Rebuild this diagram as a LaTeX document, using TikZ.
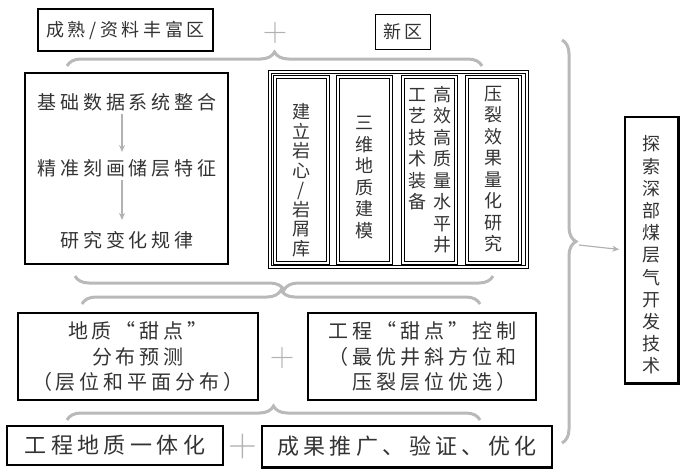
\documentclass[tikz,border=0pt]{standalone}
\usepackage{fontspec}
\newfontfamily\cjk[LetterSpace=20]{Noto Sans CJK SC}
\newfontfamily\cjkv{Noto Sans CJK SC}
\usetikzlibrary{arrows.meta,decorations.pathreplacing}

\tikzset{
  box/.style={draw=black, line width=1.6pt, inner sep=0pt},
  dbox/.style={draw=black, line width=1.1pt, double, double distance=1.3pt, inner sep=0pt},
  txt/.style={text=black!80, inner sep=0pt},
  vtxt/.style={txt, align=center, font=\cjkv\fontsize{18}{21.5}\selectfont},
  bracegray/.style={draw=gray!55, line width=3pt, decorate, decoration={brace, amplitude=14pt}},
  plus/.style={text=gray!60, inner sep=0pt, font=\fontsize{34}{34}\selectfont},
  flow/.style={draw=gray!60, line width=1.2pt, -{Stealth[length=7pt,width=6pt]}},
}

\begin{document}
\begin{tikzpicture}[x=1pt,y=-1pt]
\useasboundingbox (0,0) rectangle (693,475);
% top row: mature and new zones
\node[box, txt, minimum width=175pt, minimum height=42pt, font=\cjk\fontsize{18}{20}\selectfont] (mature) at (125.5,30) {成熟/资料丰富区};
\node[plus] (plusA) at (275,33) {+};
\node[box, txt, minimum width=55pt, minimum height=35pt, font=\cjk\fontsize{18}{20}\selectfont] (newzone) at (403,32) {新区};
\draw[bracegray] (67,66) -- (482,66);

% left block
\node[box, minimum width=203pt, minimum height=191pt] (base) at (126.5,168.5) {};
\node[txt, font=\cjk\fontsize{19}{20}\selectfont] (step1) at (127,102) {基础数据系统整合};
\node[txt, font=\cjk\fontsize{19}{20}\selectfont] (step2) at (127,168) {精准刻画储层特征};
\node[txt, font=\cjk\fontsize{19}{20}\selectfont] (step3) at (127,240) {研究变化规律};
\draw[flow, shorten <=3pt, shorten >=7pt] ([xshift=-5pt]step1.south) -- ([xshift=-5pt]step2.north);
\draw[flow, shorten <=3pt, shorten >=11pt] ([xshift=-5pt]step2.south) -- ([xshift=-5pt]step3.north);

% right block with four columns
\node[dbox, minimum width=257pt, minimum height=195pt] (newgrp) at (398.5,169.5) {};
\node[dbox, minimum width=53pt, minimum height=186pt] (colA) at (301.5,170) {};
\node[dbox, minimum width=53pt, minimum height=186pt] (colB) at (364.5,170) {};
\node[dbox, minimum width=53pt, minimum height=186pt] (colC) at (429.5,170) {};
\node[dbox, minimum width=53pt, minimum height=186pt] (colD) at (493.5,170) {};
\node[vtxt, font=\cjkv\fontsize{18}{19.5}\selectfont] (core) at (301.5,180) {建\\立\\岩\\心\\/\\岩\\屑\\库};
\node[vtxt] (model) at (364.5,177.5) {三\\维\\地\\质\\建\\模};
\node[vtxt, anchor=north] (craft) at (417,88) {工\\艺\\技\\术\\装\\备};
\node[vtxt, anchor=north] (well) at (442,86) {高\\效\\高\\质\\量\\水\\平\\井};
\node[vtxt, anchor=north] (frac) at (493.5,86) {压\\裂\\效\\果\\量\\化\\研\\究};

% crossing braces
\draw[bracegray] (493,276) -- (75,276);
\draw[bracegray] (82,304) -- (480,304);

% sweet spots
\node[box, txt, minimum width=240pt, minimum height=87pt, align=center, font=\cjk\fontsize{20}{25.5}\selectfont] (geo) at (138,356.5) {地质“甜点”\\分布预测\\（层位和平面分布）};
\node[plus] (plusB) at (282,358) {+};
\node[box, txt, minimum width=228pt, minimum height=87pt, align=right, font=\cjk\fontsize{20}{25.5}\selectfont] (eng) at (422,356.5) {工程“甜点”控制\\（最优井斜方位和\\压裂层位优选）};
\draw[bracegray] (67,420) -- (480,420);

% bottom row
\node[box, txt, minimum width=216pt, minimum height=39pt, font=\cjk\fontsize{22}{24}\selectfont] (unify) at (115,445.5) {工程地质一体化};
\node[plus, font=\fontsize{40}{40}\selectfont] (plusC) at (243,447) {+};
\node[box, txt, minimum width=290pt, minimum height=41pt, font=\cjk\fontsize{22}{24}\selectfont] (spread) at (407,446.5) {成果推广、验证、优化};
\draw[line width=3pt] (spread.south west) -- (spread.south east);

% goal
\draw[bracegray] (562,40) -- (562,443);
\coordinate (tip) at (579,245);
\node[box, minimum width=53pt, minimum height=266pt] (goal) at (651.5,250) {};
\draw[line width=3pt] (goal.north east) -- (goal.south east) -- (goal.south west);
\node[vtxt, font=\cjkv\fontsize{18}{22.2}\selectfont] (goalt) at (651,255) {探\\索\\深\\部\\煤\\层\\气\\开\\发\\技\\术};
\draw[flow, shorten >=5pt] (tip) -- (goal.west);
\end{tikzpicture}
\end{document}
